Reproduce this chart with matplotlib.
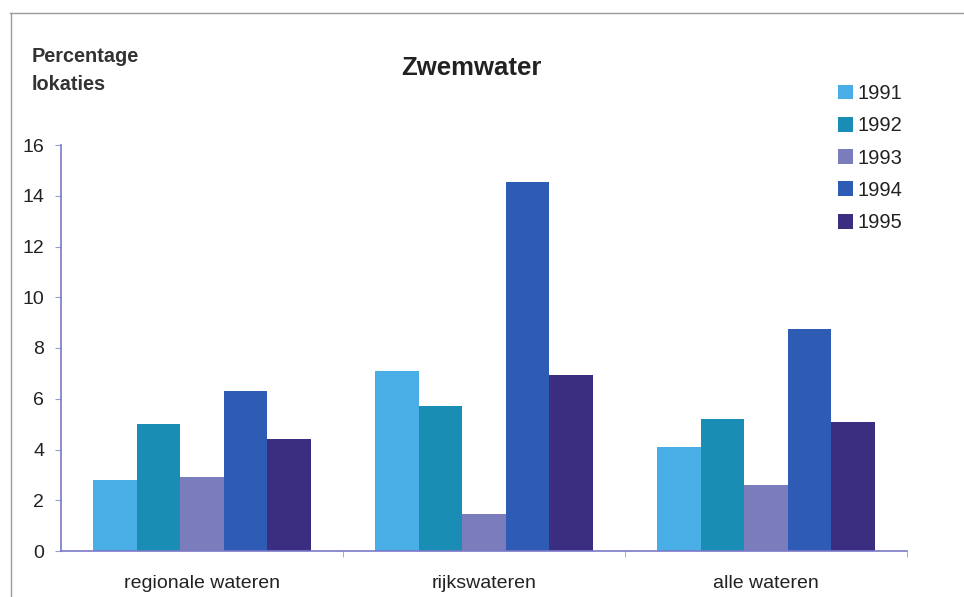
import matplotlib
matplotlib.use("Agg")
import matplotlib.pyplot as plt
from matplotlib.lines import Line2D
import numpy as np

categories = ["regionale wateren", "rijkswateren", "alle wateren"]
years = ["1991", "1992", "1993", "1994", "1995"]
v1991 = [2.8, 7.1, 4.1]
v1992 = [5.0, 5.7, 5.2]
v1993 = [2.9, 1.45, 2.6]
v1994 = [6.3, 14.55, 8.75]
v1995 = [4.4, 6.95, 5.1]
series = [v1991, v1992, v1993, v1994, v1995]
colors = ["#4aaee6", "#1a8db4", "#7b7cbc", "#2e5bb4", "#3b2e80"]

plt.rcParams['font.family'] = ['Liberation Sans', 'DejaVu Sans']
fig = plt.figure(figsize=(9.64, 5.97), dpi=100)
W, H = 964, 597
ax = fig.add_axes([61 / W, 1 - 551 / H, (907 - 61) / W, (551 - 145) / H])

x = np.arange(len(categories))
bw = 0.154
for j, (vals, c, lab) in enumerate(zip(series, colors, years)):
    ax.bar(x + (j - 2) * bw, vals, width=bw, color=c, label=lab, linewidth=0)

ax.set_xlim(-0.5, 2.5)
ax.set_ylim(0, 16)
ax.set_yticks(range(0, 17, 2))
ax.set_xticks(x)
ax.set_xticklabels(categories, fontsize=14, color="#222222")
ax.tick_params(axis='x', length=0, pad=17)
ax.set_xticks([0.5, 1.5, 2.5], minor=True)
ax.tick_params(axis='x', which='minor', length=4, color="#9a9ad0", direction='out')
ax.tick_params(axis='y', length=4, color="#9a9ad0", labelsize=14, labelcolor="#222222", pad=8)
for s in ['top', 'right']:
    ax.spines[s].set_visible(False)
for s in ['left', 'bottom']:
    ax.spines[s].set_color("#7a78c8")
    ax.spines[s].set_linewidth(1.2)

fig.text(471 / W, 1 - 68 / H, "Zwemwater", fontsize=18.5, fontweight='bold',
         ha='center', va='center', color="#222222")
fig.text(32 / W, 1 - 57 / H, "Percentage", fontsize=14.3, fontweight='bold',
         ha='left', va='center', color="#333333")
fig.text(32 / W, 1 - 85 / H, "lokaties", fontsize=14.3, fontweight='bold',
         ha='left', va='center', color="#333333")

leg = ax.legend(loc='upper left', bbox_to_anchor=(838 / W, 1 - 84 / H),
                bbox_transform=fig.transFigure, frameon=False, fontsize=14.5,
                handlelength=0.75, handleheight=0.75, handletextpad=0.2,
                labelspacing=0.66, borderpad=0, borderaxespad=0)
for t in leg.get_texts():
    t.set_color("#222222")

# scanned page frame
fig.add_artist(Line2D([10 / W, 1.0], [1 - 13 / H, 1 - 13 / H], transform=fig.transFigure,
                      color="#999999", linewidth=1))
fig.add_artist(Line2D([11 / W, 11 / W], [0, 1 - 13 / H], transform=fig.transFigure,
                      color="#999999", linewidth=1))

fig.savefig("out.png", dpi=100)
